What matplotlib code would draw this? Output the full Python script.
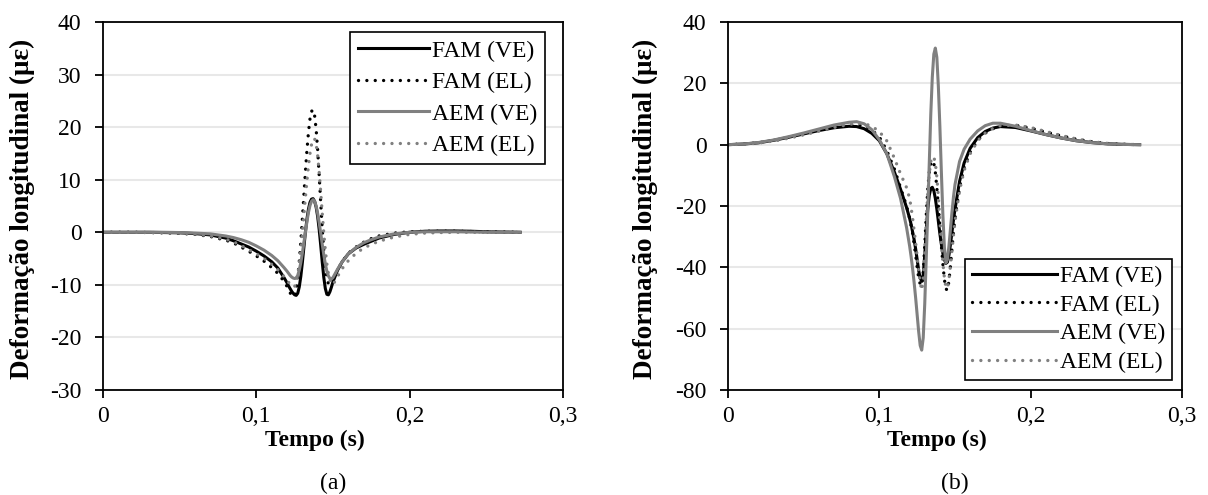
import matplotlib
matplotlib.use("Agg")
import matplotlib.pyplot as plt
from matplotlib.ticker import FixedLocator

plt.rcParams['font.family'] = ['Liberation Serif', 'DejaVu Serif']
plt.rcParams['mathtext.fontset'] = 'stix'

# ---------------- data ----------------
time_s = [0, 0.01, 0.02, 0.03, 0.04, 0.05, 0.06, 0.07, 0.08, 0.085, 0.09, 0.095, 0.1, 0.105, 0.11, 0.114, 0.118,
          0.120, 0.121, 0.122, 0.123, 0.124, 0.125, 0.126, 0.127, 0.128, 0.129, 0.130,
          0.131, 0.132, 0.133, 0.134, 0.135, 0.136, 0.137, 0.138, 0.139, 0.140,
          0.141, 0.142, 0.143, 0.144, 0.145, 0.146, 0.147, 0.148, 0.149, 0.150,
          0.153, 0.156, 0.16, 0.165, 0.17, 0.175, 0.18, 0.19, 0.2, 0.21, 0.22, 0.23, 0.24, 0.25, 0.26, 0.272]

# Panel (a)
a_fam_ve = [0, 0, 0, 0, -0.05, -0.1, -0.25, -0.5, -1.1, -1.6, -2.2, -2.8, -3.6, -4.5, -5.6, -6.8, -8.6,
            -9.6, -10.2, -10.7, -11.2, -11.6, -11.9, -12.0, -11.6, -10.4, -8.4, -5.8,
            -2.9, 0.0, 2.5, 4.4, 5.7, 6.3, 6.4, 5.9, 4.8, 3.0,
            0.5, -2.5, -5.7, -8.6, -10.7, -11.8, -11.9, -11.3, -10.4, -9.4,
            -7.2, -5.6, -4.1, -3.0, -2.3, -1.7, -1.1, -0.4, 0.0, 0.2, 0.25, 0.25, 0.2, 0.1, 0.05, 0.0]
a_fam_el = [0, 0, 0, -0.05, -0.1, -0.2, -0.4, -0.8, -1.5, -2.0, -2.8, -3.6, -4.5, -5.5, -6.7, -7.8, -9.3,
            -10.3, -10.9, -11.5, -12.0, -12.3, -12.1, -11.0, -8.8, -5.6, -1.8, 2.5,
            7.0, 11.5, 15.6, 19.0, 21.6, 23.0, 23.3, 22.2, 19.6, 15.6,
            10.8, 5.6, 0.6, -3.6, -6.8, -8.8, -9.8, -10.0, -9.7, -9.1,
            -7.2, -5.6, -4.0, -2.8, -1.9, -1.2, -0.7, -0.15, 0.1, 0.2, 0.2, 0.2, 0.15, 0.1, 0.05, 0.0]
a_aem_ve = [0, 0, 0, 0, 0, -0.05, -0.15, -0.3, -0.7, -1.0, -1.4, -1.9, -2.6, -3.4, -4.4, -5.4, -6.7,
            -7.4, -7.8, -8.2, -8.5, -8.7, -8.8, -8.7, -8.2, -7.2, -5.8, -4.0,
            -2.0, 0.0, 2.0, 3.8, 5.1, 5.9, 6.2, 5.9, 5.0, 3.6,
            1.8, -0.2, -2.3, -4.3, -6.0, -7.4, -8.3, -8.8, -8.9, -8.6,
            -7.0, -5.6, -4.1, -2.9, -2.0, -1.4, -0.9, -0.3, 0.0, 0.1, 0.1, 0.1, 0.05, 0.02, 0.0, 0.0]
a_aem_el = [0, 0, 0, -0.05, -0.1, -0.15, -0.35, -0.7, -1.3, -1.8, -2.5, -3.3, -4.1, -5.0, -6.1, -7.1, -8.4,
            -9.1, -9.5, -9.9, -10.2, -10.4, -10.3, -9.6, -8.2, -6.0, -3.3, -0.2,
            3.2, 6.6, 9.8, 12.7, 15.0, 16.7, 17.7, 17.8, 16.8, 14.6,
            11.4, 7.6, 3.6, -0.2, -3.4, -6.0, -7.9, -9.1, -9.8, -10.0,
            -8.4, -6.9, -5.4, -4.0, -3.0, -2.3, -1.7, -0.9, -0.4, -0.15, -0.05, 0.0, 0.0, 0.0, 0.0, 0.0]

# Panel (b)
b_fam_ve = [0, 0.2, 0.6, 1.4, 2.4, 3.5, 4.6, 5.5, 6.0, 5.9, 5.2, 3.7, 1.3, -3.0, -9.0, -14.5, -20.5,
            -24, -26, -28.5, -31, -34, -37.5, -41, -43.5, -44.5, -42.5, -36,
            -28, -21, -16.5, -14.3, -13.9, -15, -17.5, -21, -25, -29,
            -32.5, -35.5, -37.5, -38.7, -38.3, -36, -32.5, -28.5, -24.5, -21,
            -12, -6, -1.2, 2.3, 4.3, 5.4, 5.9, 5.6, 4.5, 3.3, 2.2, 1.3, 0.7, 0.3, 0.1, 0.0]
b_fam_el = [0, 0.2, 0.6, 1.3, 2.3, 3.4, 4.6, 5.7, 6.4, 6.5, 6.1, 4.8, 2.5, -2.0, -8.0, -14, -20,
            -24, -26.5, -29, -32.5, -36, -40, -43.5, -45.5, -46, -42, -33,
            -23, -14.5, -9, -6.2, -5.2, -6, -9, -14, -20, -26.5,
            -33, -39, -44, -47, -47.5, -44.5, -39.5, -34, -28.5, -24,
            -14, -7.5, -2.5, 1.5, 3.8, 5.2, 6.1, 6.3, 5.4, 4.1, 2.9, 1.8, 1.0, 0.4, 0.15, 0.0]
b_aem_ve = [0, 0.2, 0.7, 1.5, 2.6, 3.8, 5.1, 6.4, 7.3, 7.5, 6.8, 4.9, 1.6, -3.0, -10.5, -17.5, -27,
            -33, -36.5, -40.5, -45, -50, -55.5, -61, -65.5, -67, -63, -52,
            -37, -22, -6, 10, 22, 29.5, 31.5, 28.5, 19, 6,
            -9, -23, -33.5, -38.5, -37.5, -33, -27.5, -22, -17, -13,
            -5.5, -1.5, 1.8, 4.5, 6.2, 7.0, 7.0, 6.0, 4.6, 3.3, 2.2, 1.3, 0.7, 0.3, 0.1, 0.0]
b_aem_el = [0, 0.15, 0.5, 1.2, 2.1, 3.2, 4.4, 5.6, 6.6, 7.0, 6.9, 6.0, 4.3, 1.2, -4.5, -9.5, -14,
            -17.5, -20.5, -24, -28, -32, -36.5, -41, -45, -47.5, -44, -35,
            -25, -16, -9.5, -5.5, -4.0, -4.0, -6.0, -10.5, -17, -24.5,
            -32, -38.5, -43.5, -46.5, -46.8, -44, -39.5, -34.5, -29.5, -25,
            -15, -8.5, -3, 1.3, 3.8, 5.3, 6.2, 6.4, 5.6, 4.3, 3.0, 1.9, 1.0, 0.45, 0.15, 0.0]

series_labels = ['FAM (VE)', 'FAM (EL)', 'AEM (VE)', 'AEM (EL)']
x_ticks = [0, 0.1, 0.2, 0.3]
x_ticklabels = ['0', '0,1', '0,2', '0,3']
a_yticks = [-30, -20, -10, 0, 10, 20, 30, 40]
b_yticks = [-80, -60, -40, -20, 0, 20, 40]
panel_tags = ['(a)', '(b)']

# ---------------- styling ----------------
W, H = 1208, 495
fig = plt.figure(figsize=(W / 100, H / 100), dpi=100)

BLACK = '#000000'
GRAY = '#808080'
DOT = (0, (0.01, 2.5))
styles = [dict(color=BLACK, linestyle='-', lw=2.2),
          dict(color=BLACK, linestyle=DOT, lw=2.4, dash_capstyle='round'),
          dict(color=GRAY, linestyle='-', lw=2.2),
          dict(color=GRAY, linestyle=DOT, lw=2.4, dash_capstyle='round')]

FS = 17
FS_Y = 19.5

def px_axes(l, r, t, b):
    return [l / W, (H - b) / H, (r - l) / W, (b - t) / H]

panels = [
    dict(rect=px_axes(103, 563, 22, 390), data=[a_fam_ve, a_fam_el, a_aem_ve, a_aem_el],
         ylim=(-30, 40), yticks=a_yticks, ylab_x=22,
         leg=dict(loc='upper right', bbox_to_anchor=(0.961, 0.973), handlelength=3.0,
                  labelspacing=0.42, borderpad=0.35)),
    dict(rect=px_axes(728, 1182, 22, 390), data=[b_fam_ve, b_fam_el, b_aem_ve, b_aem_el],
         ylim=(-80, 40), yticks=b_yticks, ylab_x=645,
         leg=dict(loc='lower right', bbox_to_anchor=(0.978, 0.027), handlelength=3.6,
                  labelspacing=0.3, borderpad=0.3)),
]

for i, p in enumerate(panels):
    ax = fig.add_axes(p['rect'])
    for ys, st, lab in zip(p['data'], styles, series_labels):
        ax.plot(time_s, ys, label=lab, **st)
    ax.set_xlim(0, 0.3)
    ax.set_ylim(*p['ylim'])
    ax.xaxis.set_major_locator(FixedLocator(x_ticks))
    ax.set_xticklabels(x_ticklabels)
    ax.yaxis.set_major_locator(FixedLocator(p['yticks']))
    ax.set_yticklabels([str(v) for v in p['yticks']])
    ax.grid(axis='y', color='#e8e8e8', lw=1.5, zorder=0)
    ax.set_axisbelow(True)
    for s in ax.spines.values():
        s.set_linewidth(1.3)
        s.set_color('black')
    ax.tick_params(axis='both', direction='out', length=5.5, width=1.3, labelsize=FS,
                   colors='black')
    ax.tick_params(axis='y', pad=10)
    ax.tick_params(axis='x', pad=6)
    fig.text(p['ylab_x'] / W, (H - 209) / H, 'Deformação longitudinal (με)', rotation=90,
             ha='center', va='center', fontsize=FS_Y, fontweight='bold')
    ax.text(0.46, -0.136, 'Tempo (s)', transform=ax.transAxes, ha='center', va='center',
            fontsize=FS, fontweight='bold')
    ax.text(0.5, -0.253, panel_tags[i], transform=ax.transAxes, ha='center', va='center',
            fontsize=FS)
    leg = ax.legend(borderaxespad=0, fontsize=FS, frameon=True, fancybox=False, framealpha=1,
                    edgecolor='black', handletextpad=0.1, **p['leg'])
    leg.get_frame().set_linewidth(1.2)

fig.savefig('out.png', dpi=100)
